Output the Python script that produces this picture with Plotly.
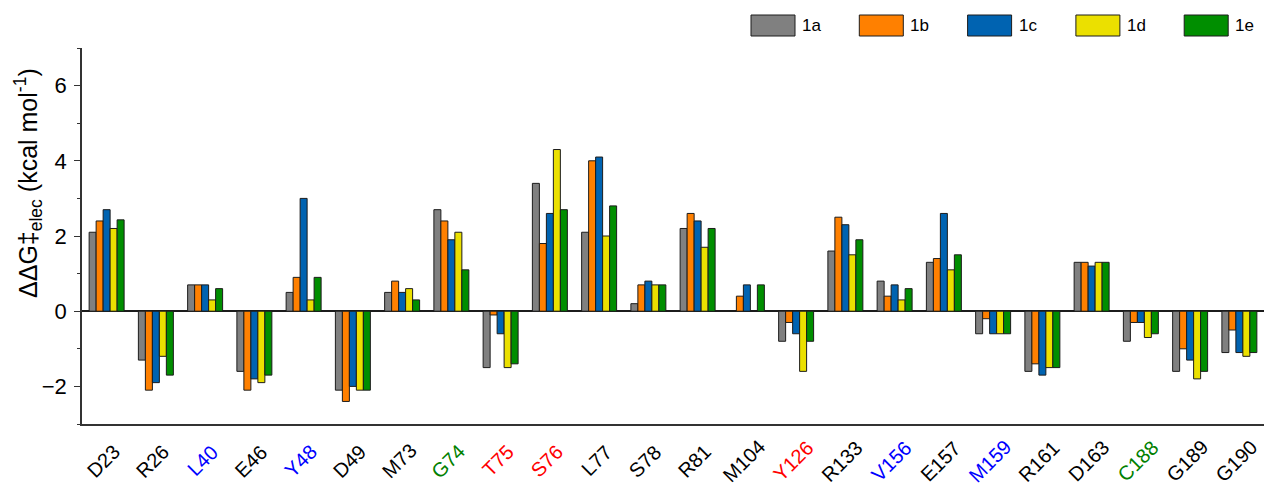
import plotly.graph_objects as go

# Residues along the x axis and the colour of each residue label
residues = ["D23", "R26", "L40", "E46", "Y48", "D49", "M73", "G74", "T75", "S76",
            "L77", "S78", "R81", "M104", "Y126", "R133", "V156", "E157", "M159",
            "R161", "D163", "C188", "G189", "G190"]
label_colors = ["black", "black", "blue", "black", "blue", "black", "black", "green",
                "red", "red", "black", "black", "black", "black", "red", "black",
                "blue", "black", "blue", "black", "black", "green", "black", "black"]

# ΔΔG‡elec per residue (kcal/mol) for each system
v_1a = [2.1, -1.3, 0.7, -1.6, 0.5, -2.1, 0.5, 2.7, -1.5, 3.4,
        2.1, 0.2, 2.2, 0.0, -0.8, 1.6, 0.8, 1.3, -0.6, -1.6, 1.3, -0.8, -1.6, -1.1]
v_1b = [2.4, -2.1, 0.7, -2.1, 0.9, -2.4, 0.8, 2.4, -0.1, 1.8,
        4.0, 0.7, 2.6, 0.4, -0.3, 2.5, 0.4, 1.4, -0.2, -1.4, 1.3, -0.3, -1.0, -0.5]
v_1c = [2.7, -1.9, 0.7, -1.8, 3.0, -2.0, 0.5, 1.9, -0.6, 2.6,
        4.1, 0.8, 2.4, 0.7, -0.6, 2.3, 0.7, 2.6, -0.6, -1.7, 1.2, -0.3, -1.3, -1.1]
v_1d = [2.2, -1.2, 0.3, -1.9, 0.3, -2.1, 0.6, 2.1, -1.5, 4.3,
        2.0, 0.7, 1.7, 0.0, -1.6, 1.5, 0.3, 1.1, -0.6, -1.5, 1.3, -0.7, -1.8, -1.2]
v_1e = [2.43, -1.7, 0.6, -1.7, 0.9, -2.1, 0.3, 1.1, -1.4, 2.7,
        2.8, 0.7, 2.2, 0.7, -0.8, 1.9, 0.6, 1.5, -0.6, -1.5, 1.3, -0.6, -1.6, -1.1]

series_names = ["1a", "1b", "1c", "1d", "1e"]
series_values = [v_1a, v_1b, v_1c, v_1d, v_1e]
series_colors = ["#808080", "#FF8000", "#0063B1", "#EBE000", "#008E00"]

FONT = "Arial, 'Liberation Sans', sans-serif"
W, H = 1264, 484
ML, MR, MT, MB = 82, 0, 48, 60

fig = go.Figure()
xs = list(range(len(residues)))
for name, vals, col in zip(series_names, series_values, series_colors):
    fig.add_trace(go.Bar(
        x=xs, y=vals, name=name, showlegend=False,
        marker=dict(color=col, line=dict(color="#1c1c1c", width=1)),
    ))

# pixel -> paper helpers for items placed in the margins
pw, ph = W - ML - MR, H - MT - MB
def px_x(p):
    return (p - ML) / pw
def px_y(p):
    return (H - MB - p) / ph

shapes, annotations = [], []

# Legend: swatches + labels across the top right
for i, (name, col) in enumerate(zip(series_names, series_colors)):
    x0 = 751 + 108.3 * i
    shapes.append(dict(type="rect", xref="paper", yref="paper",
                       x0=px_x(x0), x1=px_x(x0 + 44), y0=px_y(36), y1=px_y(15),
                       fillcolor=col, line=dict(color="#1c1c1c", width=1)))
    annotations.append(dict(xref="paper", yref="paper", x=px_x(x0 + 49), y=px_y(26),
                            text=name, showarrow=False, xanchor="left", yanchor="middle",
                            font=dict(family=FONT, size=17, color="black")))

# Residue labels, slanted and coloured, centred under each group
for i, (res, col) in enumerate(zip(residues, label_colors)):
    annotations.append(dict(xref="x", yref="paper", x=i, y=px_y(461), xshift=-3,
                            text=res, showarrow=False, textangle=-45,
                            xanchor="center", yanchor="middle",
                            font=dict(family=FONT, size=20, color=col)))

# y-axis title
annotations.append(dict(xref="paper", yref="paper", x=px_x(28), y=px_y(183),
                        text="ΔΔG‡<sub>elec</sub> (kcal mol<sup>-1</sup>)",
                        showarrow=False, textangle=-90, xanchor="center", yanchor="middle",
                        font=dict(family=FONT, size=25, color="black")))

fig.update_layout(
    width=W, height=H,
    margin=dict(l=ML, r=MR, t=MT, b=MB),
    plot_bgcolor="white", paper_bgcolor="white",
    barmode="group", bargap=0.29, bargroupgap=0,
    font=dict(family=FONT, color="black"),
    shapes=shapes, annotations=annotations,
    xaxis=dict(range=[-0.5, 23.5], tickmode="array", tickvals=xs,
               showticklabels=False,
               showline=True, linecolor="#333333", linewidth=1.5,
               ticks="", showgrid=False, zeroline=False, automargin=False),
    yaxis=dict(range=[-3, 7], tickmode="array", tickvals=[-2, 0, 2, 4, 6],
               tickfont=dict(size=22, family=FONT), ticklabelstandoff=3,
               ticks="outside", ticklen=6, tickwidth=1.2, tickcolor="#333333",
               minor=dict(tickmode="array", tickvals=[-3, -1, 1, 3, 5, 7],
                          ticks="outside", ticklen=3, tickcolor="#333333"),
               showline=True, linecolor="#333333", linewidth=1.5,
               showgrid=False, zeroline=True, zerolinecolor="#1c1c1c", zerolinewidth=1.5,
               automargin=False),
)

fig.write_html("out.html")
